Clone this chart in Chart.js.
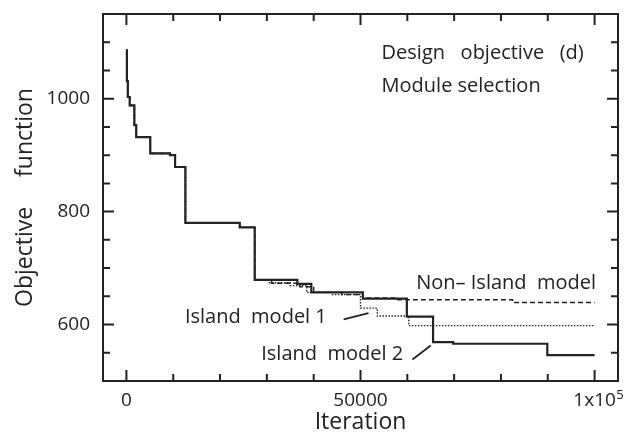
<!DOCTYPE html>
<html>
<head>
<meta charset="utf-8">
<script src="https://cdn.jsdelivr.net/npm/chart.js@4/dist/chart.umd.min.js"></script>
<style>
html,body{margin:0;padding:0;background:#fff;}
</style>
</head>
<body>
<canvas id="c" width="640" height="434"></canvas>
<script>
// ---- Data ----
const sharedIter = [0, 100, 300, 700, 1700, 2100, 5100, 9300, 10400, 12600, 24200, 27400];
const sharedObj  = [1086, 1031, 1003, 988, 953, 932, 903, 900, 879, 780, 772, 679];

const nonIslandIter = [31000, 37000, 40000, 46000, 50500, 58000, 82500, 100000];
const nonIslandObj  = [673, 667, 657, 653, 647, 644, 639, 639];

const island1Iter = [30500, 35000, 38500, 44000, 50000, 53600, 60300, 100000];
const island1Obj  = [674, 669, 657, 653, 629, 615, 598, 598];

const island2Iter = [36500, 39500, 50500, 59900, 65500, 69800, 89900, 100000];
const island2Obj  = [672, 657, 646, 614, 569, 566, 546, 546];

const xTickValues = [0, 50000, 100000];
const yTickValues = [600, 800, 1000];
const xMinorStep = 10000;
const yMinorStep = 50;

const seriesNames = ['Non– Island  model', 'Island  model 1', 'Island  model 2'];
const headerLines = ['Design   objective   (d)', 'Module selection'];

function pts(iters, objs) { return iters.map((x, i) => ({x: x, y: objs[i]})); }
const nonIsland = pts(sharedIter.concat(nonIslandIter), sharedObj.concat(nonIslandObj));
const island1 = pts(sharedIter.concat(island1Iter), sharedObj.concat(island1Obj));
const island2 = pts(sharedIter.concat(island2Iter), sharedObj.concat(island2Obj));

const INK = '#222222';
const FONT = "'Open Sans', sans-serif";
const TICK_SIZE = 19;

// annotation anchors in data space
const notes = [
  {text: headerLines[0], x: 54500, y: 1080, align: 'left'},
  {text: headerLines[1], x: 54500, y: 1022, align: 'left'},
  {text: seriesNames[0], x: 100300, y: 673, align: 'right'},
  {text: seriesNames[1], x: 12500, y: 612, align: 'left'},
  {text: seriesNames[2], x: 28800, y: 547, align: 'left'}
];
const leaders = [
  {x1: 46400, y1: 609, x2: 51700, y2: 620},
  {x1: 61100, y1: 538, x2: 65000, y2: 563}
];

const framePlugin = {
  id: 'frame',
  afterDraw(chart) {
    const {ctx, chartArea: a, scales: {x, y}} = chart;
    ctx.save();
    ctx.strokeStyle = INK;
    ctx.lineWidth = 2;
    ctx.lineCap = 'butt';
    ctx.strokeRect(a.left, a.top, a.right - a.left, a.bottom - a.top);
    ctx.beginPath();
    for (let v = 0; v <= 100000; v += xMinorStep) {
      const px = x.getPixelForValue(v);
      const len = xTickValues.includes(v) ? 11 : 7;
      ctx.moveTo(px, a.bottom); ctx.lineTo(px, a.bottom - len);
      ctx.moveTo(px, a.top); ctx.lineTo(px, a.top + len);
    }
    for (let v = 550; v <= 1100; v += yMinorStep) {
      const py = y.getPixelForValue(v);
      const len = yTickValues.includes(v) ? 11 : 7;
      ctx.moveTo(a.left, py); ctx.lineTo(a.left + len, py);
      ctx.moveTo(a.right, py); ctx.lineTo(a.right - len, py);
    }
    ctx.stroke();

    // superscript of 1x10^5
    ctx.font = TICK_SIZE + "px " + FONT;
    const w = ctx.measureText('1x10').width;
    const px = x.getPixelForValue(100000);
    ctx.fillStyle = INK;
    ctx.font = "13px " + FONT;
    ctx.textAlign = 'left';
    ctx.textBaseline = 'middle';
    ctx.fillText('5', px + w / 2 + 0.5, a.bottom + 14);

    // annotations
    ctx.font = "20px " + FONT;
    ctx.textBaseline = 'middle';
    notes.forEach(n => {
      ctx.textAlign = n.align;
      ctx.fillText(n.text, x.getPixelForValue(n.x), y.getPixelForValue(n.y));
    });
    ctx.lineWidth = 1.8;
    ctx.beginPath();
    leaders.forEach(l => {
      ctx.moveTo(x.getPixelForValue(l.x1), y.getPixelForValue(l.y1));
      ctx.lineTo(x.getPixelForValue(l.x2), y.getPixelForValue(l.y2));
    });
    ctx.stroke();
    ctx.restore();
  }
};

function zeroPad(s) { s.paddingLeft = 0; s.paddingRight = 0; s.paddingTop = 0; s.paddingBottom = 0; }

new Chart(document.getElementById('c'), {
  type: 'line',
  data: {
    datasets: [
      {label: seriesNames[0], data: nonIsland, stepped: true, borderColor: INK, borderWidth: 1.4,
       borderDash: [5, 3], pointRadius: 0, fill: false, order: 3},
      {label: seriesNames[1], data: island1, stepped: true, borderColor: INK, borderWidth: 1.4,
       borderDash: [1.5, 1.5], pointRadius: 0, fill: false, order: 2},
      {label: seriesNames[2], data: island2, stepped: true, borderColor: INK, borderWidth: 2.2,
       pointRadius: 0, fill: false, order: 1}
    ]
  },
  options: {
    responsive: false,
    animation: false,
    devicePixelRatio: 1,
    layout: {padding: {top: 14, right: 22, left: 0, bottom: 0}},
    plugins: {legend: {display: false}, tooltip: {enabled: false}},
    scales: {
      x: {
        type: 'linear', min: -5000, max: 105000,
        grid: {display: false, drawTicks: false},
        border: {display: false},
        afterBuildTicks: s => { s.ticks = xTickValues.map(v => ({value: v})); },
        afterFit: s => { s.height = 53; zeroPad(s); },
        ticks: {
          autoSkip: false, maxRotation: 0, padding: 8, color: INK,
          font: {family: FONT, size: TICK_SIZE},
          callback: v => v === 100000 ? '1x10' : String(v)
        },
        title: {display: true, text: 'Iteration', color: INK,
                font: {family: FONT, size: 23, lineHeight: 1}, padding: {top: 0, bottom: 0}}
      },
      y: {
        type: 'linear', min: 500, max: 1150,
        grid: {display: false, drawTicks: false},
        border: {display: false},
        afterBuildTicks: s => { s.ticks = yTickValues.map(v => ({value: v})); },
        afterFit: s => { s.width = 103; zeroPad(s); },
        ticks: {padding: 13, color: INK, font: {family: FONT, size: TICK_SIZE},
                callback: v => String(v)},
        title: {display: true, text: 'Objective     function', color: INK,
                font: {family: FONT, size: 23, lineHeight: 1}, padding: {top: 14, bottom: 0}}
      }
    }
  },
  plugins: [framePlugin]
});
</script>
</body>
</html>
